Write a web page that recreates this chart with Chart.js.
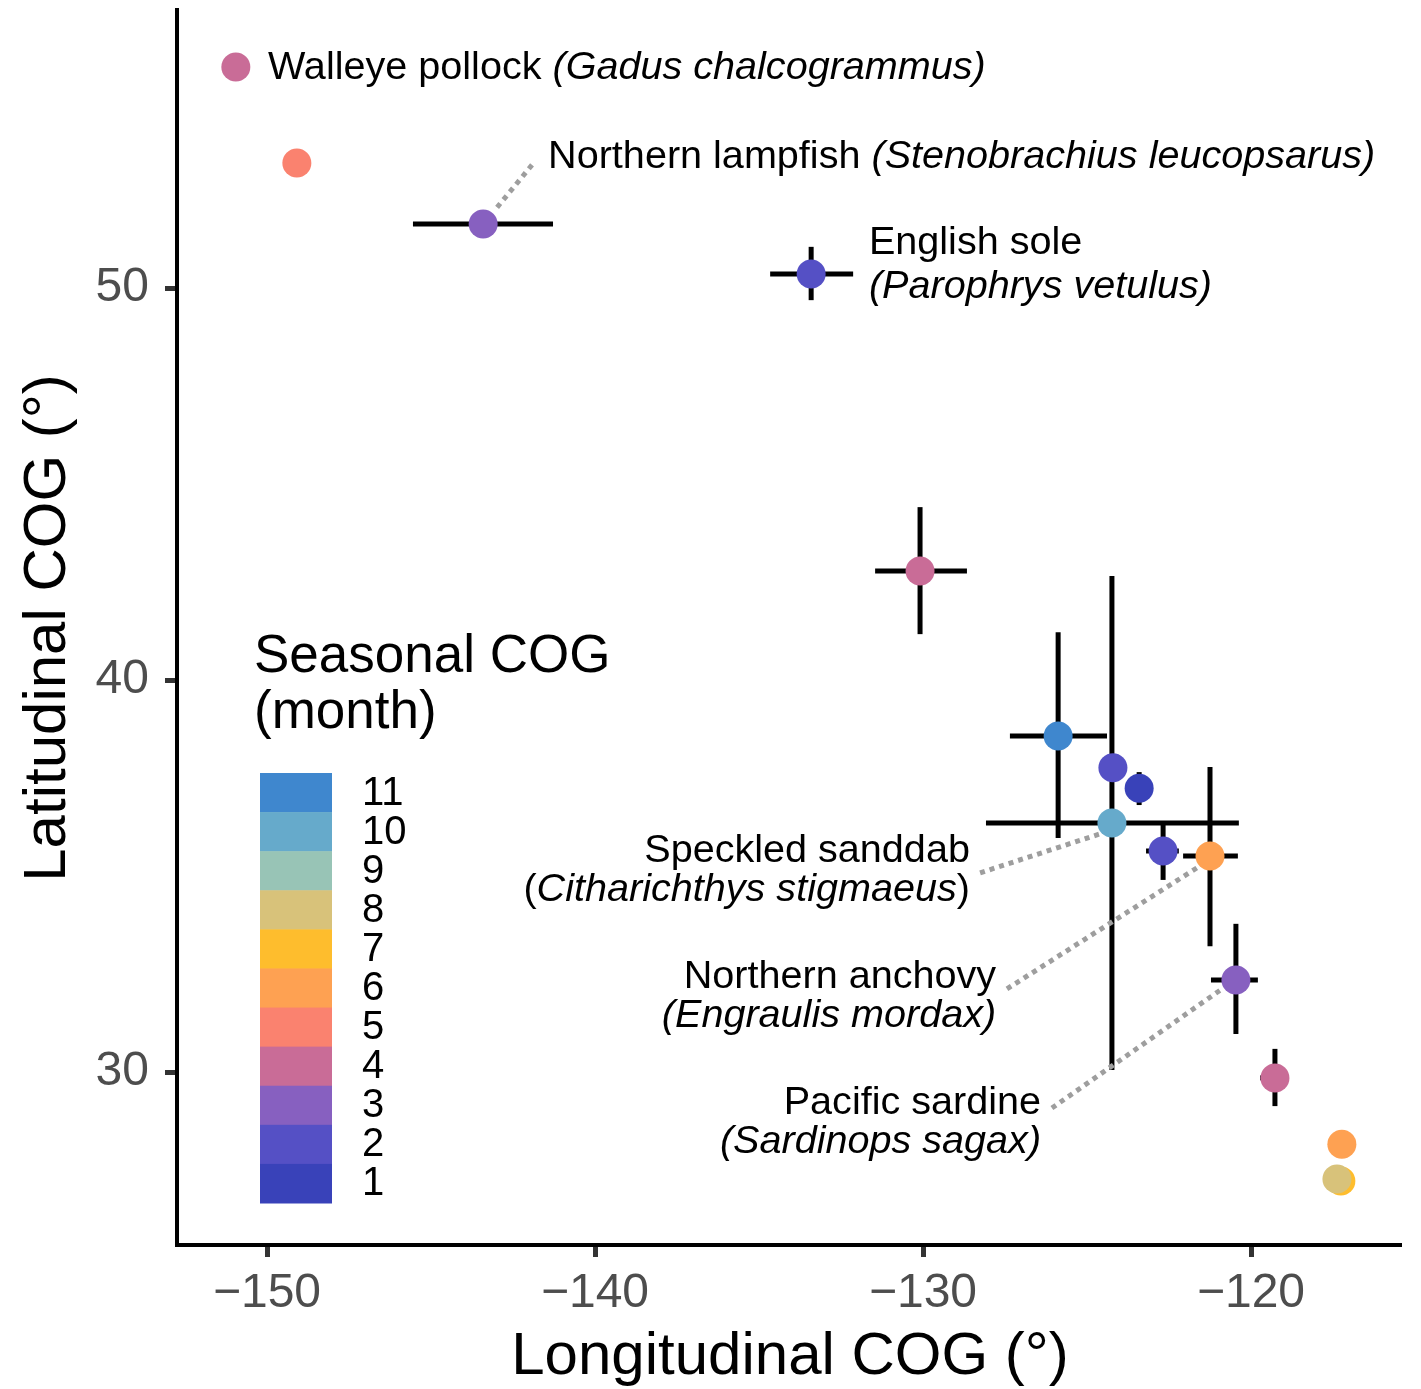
<!DOCTYPE html>
<html>
<head>
<meta charset="utf-8">
<title>Seasonal COG</title>
<script src="https://cdn.jsdelivr.net/npm/chart.js"></script>
<style>
  html, body { margin: 0; padding: 0; background: #fff; }
</style>
</head>
<body>
<canvas id="chart" width="1421" height="1389"></canvas>
<script>
// centre of gravity per point (lon, lat) and month of seasonal COG
const lon   = [-150.95, -149.09, -143.41, -133.41, -130.09, -125.88, -124.21, -123.41, -124.24, -122.68, -121.25, -120.46, -119.27, -117.23, -117.26, -117.38];
const lat   = [55.64, 53.19, 51.63, 50.36, 42.78, 38.57, 37.76, 37.24, 36.35, 35.64, 35.51, 32.35, 29.85, 28.16, 27.22, 27.27];
const month = [4, 5, 3, 2, 4, 11, 2, 1, 10, 2, 6, 3, 4, 6, 7, 8];

// error bars, null = none
const lonLo = [null, null, -145.55, -134.66, -131.46, -127.35, null, null, -128.08, -123.20, -122.07, -121.22, -119.72, null, null, null];
const lonHi = [null, null, -141.28, -132.13, -128.66, -124.39, null, null, -120.37, -122.20, -120.40, -119.79, -118.85, null, null, null];
const latLo = [null, null, null, 49.69, 41.17, 35.97, null, 36.81, 30.05, 34.90, 33.21, 30.97, 29.13, null, null, null];
const latHi = [null, null, null, 51.05, 44.41, 41.22, null, 37.65, 42.65, 36.38, 37.78, 33.78, 30.59, null, null, null];

// dotted leader lines
const leadFromLon = [-141.92, -128.26, -127.44, -126.07];
const leadFromLat = [53.14, 35.08, 32.12, 29.08];
const leadToLon   = [-143.05, -124.51, -121.55, -120.85];
const leadToLat   = [51.99, 36.10, 35.26, 32.14];

const xTicks = [-150, -140, -130, -120];
const yTicks = [30, 40, 50];
const legendMonths = [11, 10, 9, 8, 7, 6, 5, 4, 3, 2, 1];

const monthColors = {
  1: '#3942B9', 2: '#5550C5', 3: '#8760C0', 4: '#C96C97', 5: '#FA826F', 6: '#FEA152',
  7: '#FEBD2D', 8: '#D8C27A', 9: '#98C4B6', 10: '#66AACB', 11: '#3F87CE'
};

// species labels: anchor in data coords, align, runs of [text, italic]
const speciesLabels = [
  { lon: -149.97, lat: 55.66, align: 'left',  runs: [['Walleye pollock ', false], ['(Gadus chalcogrammus)', true]] },
  { lon: -141.43, lat: 53.39, align: 'left',  runs: [['Northern lampfish ', false], ['(Stenobrachius leucopsarus)', true]] },
  { lon: -131.65, lat: 51.20, align: 'left',  runs: [['English sole', false]] },
  { lon: -131.65, lat: 50.08, align: 'left',  runs: [['(Parophrys vetulus)', true]] },
  { lon: -128.57, lat: 35.69, align: 'right', runs: [['Speckled sanddab', false]] },
  { lon: -128.57, lat: 34.69, align: 'right', runs: [['(', false], ['Citharichthys stigmaeus', true], [')', false]] },
  { lon: -127.77, lat: 32.47, align: 'right', runs: [['Northern anchovy', false]] },
  { lon: -127.77, lat: 31.48, align: 'right', runs: [['(Engraulis mordax)', true]] },
  { lon: -126.40, lat: 29.26, align: 'right', runs: [['Pacific sardine', false]] },
  { lon: -126.40, lat: 28.27, align: 'right', runs: [['(Sardinops sagax)', true]] }
];

const FONT = '"Liberation Sans", Arial, Helvetica, sans-serif';

const errorBars = {
  id: 'errorBars',
  beforeDatasetsDraw(chart) {
    const { ctx, scales: { x, y } } = chart;
    ctx.save();
    ctx.strokeStyle = '#000';
    ctx.lineWidth = 5;
    lon.forEach((v, i) => {
      if (lonLo[i] !== null) {
        ctx.beginPath();
        ctx.moveTo(x.getPixelForValue(lonLo[i]), y.getPixelForValue(lat[i]));
        ctx.lineTo(x.getPixelForValue(lonHi[i]), y.getPixelForValue(lat[i]));
        ctx.stroke();
      }
      if (latLo[i] !== null) {
        ctx.beginPath();
        ctx.moveTo(x.getPixelForValue(v), y.getPixelForValue(latLo[i]));
        ctx.lineTo(x.getPixelForValue(v), y.getPixelForValue(latHi[i]));
        ctx.stroke();
      }
    });
    ctx.restore();
  }
};

const textLayer = {
  id: 'textLayer',
  afterDraw(chart) {
    const { ctx, scales: { x, y } } = chart;
    ctx.save();
    ctx.fillStyle = '#000';
    ctx.textBaseline = 'middle';

    // species labels
    speciesLabels.forEach(l => {
      const fonts = l.runs.map(r => (r[1] ? 'italic ' : '') + '39.6px ' + FONT);
      let total = 0;
      l.runs.forEach((r, k) => { ctx.font = fonts[k]; total += ctx.measureText(r[0]).width; });
      let px = x.getPixelForValue(l.lon);
      if (l.align === 'right') px -= total;
      const py = y.getPixelForValue(l.lat) + 2;
      ctx.textAlign = 'left';
      l.runs.forEach((r, k) => {
        ctx.font = fonts[k];
        ctx.fillText(r[0], px, py);
        px += ctx.measureText(r[0]).width;
      });
    });

    // axis titles
    ctx.font = '60px ' + FONT;
    ctx.textAlign = 'center';
    ctx.fillText('Longitudinal COG (°)', 790, 1357);
    ctx.save();
    ctx.translate(48, 628);
    ctx.rotate(-Math.PI / 2);
    ctx.fillText('Latitudinal COG (°)', 0, 0);
    ctx.restore();

    // colour legend
    ctx.textAlign = 'left';
    ctx.font = '53px ' + FONT;
    ctx.fillText('Seasonal COG', 254, 657);
    ctx.fillText('(month)', 254, 713);
    const top = 773, h = (1203 - 773) / legendMonths.length;
    ctx.font = '40px ' + FONT;
    legendMonths.forEach((m, k) => {
      ctx.fillStyle = monthColors[m];
      ctx.fillRect(260, top + k * h, 72, h + 0.5);
      ctx.fillStyle = '#000';
      ctx.fillText(String(m), 362, top + k * h + h / 2 + 1);
    });
    ctx.restore();
  }
};

const xMin = -150 - (267 - 177) / 32.8;
const xMax = xMin + (1401 - 177) / 32.8;
const yMin = 30 - (1245 - 1072) / 39.2;
const yMax = yMin + (1245 - 10) / 39.2;

const minus = v => String(v).replace('-', '\u2212');

const datasets = [{
  data: lon.map((v, i) => ({ x: v, y: lat[i] })),
  backgroundColor: month.map(m => monthColors[m]),
  borderWidth: 0,
  pointRadius: 14.5,
  pointHoverRadius: 14.5,
  order: 0
}];
leadFromLon.forEach((v, i) => {
  datasets.push({
    data: [{ x: v, y: leadFromLat[i] }, { x: leadToLon[i], y: leadToLat[i] }],
    showLine: true,
    borderColor: '#9E9E9E',
    borderWidth: 5,
    borderDash: [5, 5],
    pointRadius: 0,
    order: 1
  });
});

new Chart(document.getElementById('chart'), {
  type: 'scatter',
  data: { datasets },
  options: {
    responsive: false,
    animation: false,
    layout: { autoPadding: false, padding: { top: 10, right: 20, left: 0, bottom: 0 } },
    plugins: { legend: { display: false }, tooltip: { enabled: false } },
    scales: {
      x: {
        type: 'linear', min: xMin, max: xMax,
        afterFit: s => { s.height = 144; s.paddingLeft = 0; s.paddingRight = 0; },
        afterBuildTicks: s => { s.ticks = xTicks.map(v => ({ value: v })); },
        grid: { drawOnChartArea: false, drawTicks: true, tickLength: 12, tickWidth: 5, tickColor: '#333' },
        border: { color: '#000', width: 4 },
        ticks: { font: { size: 48, family: FONT }, color: '#4D4D4D', padding: 8, callback: minus }
      },
      y: {
        type: 'linear', min: yMin, max: yMax,
        afterFit: s => { s.width = 177; s.paddingTop = 0; s.paddingBottom = 0; },
        afterBuildTicks: s => { s.ticks = yTicks.map(v => ({ value: v })); },
        grid: { drawOnChartArea: false, drawTicks: true, tickLength: 12, tickWidth: 5, tickColor: '#333' },
        border: { color: '#000', width: 4 },
        ticks: { font: { size: 48, family: FONT }, color: '#4D4D4D', padding: 16, callback: minus }
      }
    }
  },
  plugins: [errorBars, textLayer]
});
</script>
</body>
</html>
